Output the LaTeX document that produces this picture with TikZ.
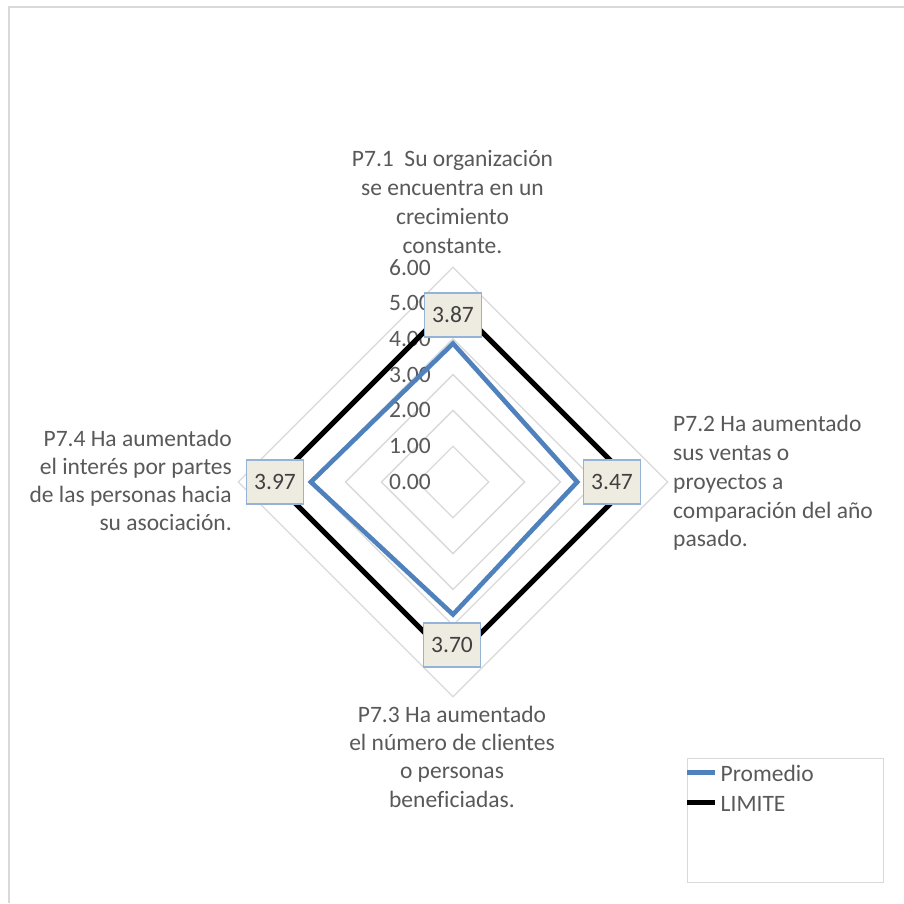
\documentclass[tikz,border=0pt]{standalone}
\usepackage{fontspec}
\setmainfont{Carlito}[Ligatures=CommonOff]
\definecolor{gridgray}{HTML}{D9D9D9}
\definecolor{txtgray}{HTML}{595959}
\definecolor{lbltxt}{HTML}{404040}
\definecolor{promblue}{HTML}{4F81BD}
\definecolor{boxfill}{HTML}{EEECE1}
\definecolor{boxedge}{HTML}{95B3D7}
\begin{document}
\begin{tikzpicture}[x=1pt,y=-1pt,
  gridline/.style={draw=gridgray,line width=1.3pt},
  axlabel/.style={anchor=east,inner sep=0pt,text=txtgray,font=\fontsize{23.5}{28.8}\selectfont},
  catline/.style={inner sep=0pt,text=txtgray,font=\fontsize{23.5}{28.8}\selectfont},
  datalabel/.style={draw=boxedge,line width=1.3pt,fill=boxfill,minimum width=57pt,minimum height=44pt,inner sep=0pt,text=lbltxt,font=\fontsize{23.5}{28.8}\selectfont},
  promline/.style={draw=promblue,line width=4.6pt,line join=miter},
  limline/.style={draw=black,line width=5.2pt,line join=miter},
  legtext/.style={anchor=base west,inner sep=0pt,text=txtgray,font=\fontsize{23.5}{28.8}\selectfont}]
\useasboundingbox (0,0) rectangle (904,903);
\fill[white] (0,0) rectangle (904,903);
% chart area border
\coordinate (bl) at (9,903);
\coordinate (tl) at (9,7);
\coordinate (tr) at (904,7);
\draw[draw=gridgray,line width=1.2pt] (bl) -- (tl) -- (tr);
% grid rings
\coordinate (C) at (453,482);
\foreach \k in {1,...,6}{
  \pgfmathsetmacro{\r}{35.8*\k}
  \draw[gridline] (453,482-\r) -- (453+\r,482) -- (453,482+\r) -- (453-\r,482) -- cycle;
}
% axis labels
\foreach \k in {0,...,6}{
  \pgfmathsetmacro{\yy}{482-35.8*\k}
  \node[axlabel] (ax\k) at (431,\yy) {\k.00};
}
% LIMITE series
\coordinate (l1) at (453,{482-5*35.8});
\coordinate (l2) at ({453+5*35.8},482);
\coordinate (l3) at (453,{482+5*35.8});
\coordinate (l4) at ({453-5*35.8},482);
\draw[limline] (l1) -- (l2) -- (l3) -- (l4) -- cycle;
% Promedio series
\coordinate (p1) at (453,{482-3.87*35.8});
\coordinate (p2) at ({453+3.47*35.8},482);
\coordinate (p3) at (453,{482+3.70*35.8});
\coordinate (p4) at ({453-3.97*35.8},482);
\draw[promline] (p1) -- (p2) -- (p3) -- (p4) -- cycle;
% data labels
\node[datalabel] (d1) at (453,315) {3.87};
\node[datalabel] (d2) at (612,482) {3.47};
\node[datalabel] (d3) at (452,645) {3.70};
\node[datalabel] (d4) at (275,482) {3.97};
% category labels
\node[catline,anchor=base] (c1a) at (452.5,166.7) {P7.1\ \ Su organización};
\node[catline,anchor=base] (c1b) at (452.5,195.5) {se encuentra en un};
\node[catline,anchor=base] (c1c) at (452.5,224.3) {crecimiento};
\node[catline,anchor=base] (c1d) at (452.5,253.1) {constante.};
\node[catline,anchor=base west] (c2a) at (673,431.7) {P7.2 Ha aumentado};
\node[catline,anchor=base west] (c2b) at (673,460.5) {sus ventas o};
\node[catline,anchor=base west] (c2c) at (673,489.3) {proyectos a};
\node[catline,anchor=base west] (c2d) at (673,518.1) {comparación del año};
\node[catline,anchor=base west] (c2e) at (673,546.9) {pasado.};
\node[catline,anchor=base] (c3a) at (452,722.3) {P7.3 Ha aumentado};
\node[catline,anchor=base] (c3b) at (452,750.6) {el número de clientes};
\node[catline,anchor=base] (c3c) at (452,778.9) {o personas};
\node[catline,anchor=base] (c3d) at (452,807.2) {beneficiadas.};
\node[catline,anchor=base east] (c4a) at (232,446.5) {P7.4 Ha aumentado};
\node[catline,anchor=base east] (c4b) at (232,474.5) {el interés por partes};
\node[catline,anchor=base east] (c4c) at (232,502.5) {de las personas hacia};
\node[catline,anchor=base east] (c4d) at (232,530.5) {su asociación.};
% legend
\node[draw=gridgray,line width=1.3pt,minimum width=196pt,minimum height=124pt,inner sep=0pt,anchor=north west] (leg) at (687,758) {};
\coordinate (lg1a) at (687,772.3);
\coordinate (lg1b) at (715,772.3);
\coordinate (lg2a) at (687,802.3);
\coordinate (lg2b) at (715,802.3);
\draw[draw=promblue,line width=4.6pt] (lg1a) -- (lg1b);
\draw[draw=black,line width=5pt] (lg2a) -- (lg2b);
\node[legtext] (lt1) at (720.5,781.7) {Promedio};
\node[legtext] (lt2) at (720.5,811.7) {LIMITE};
\end{tikzpicture}
\end{document}
